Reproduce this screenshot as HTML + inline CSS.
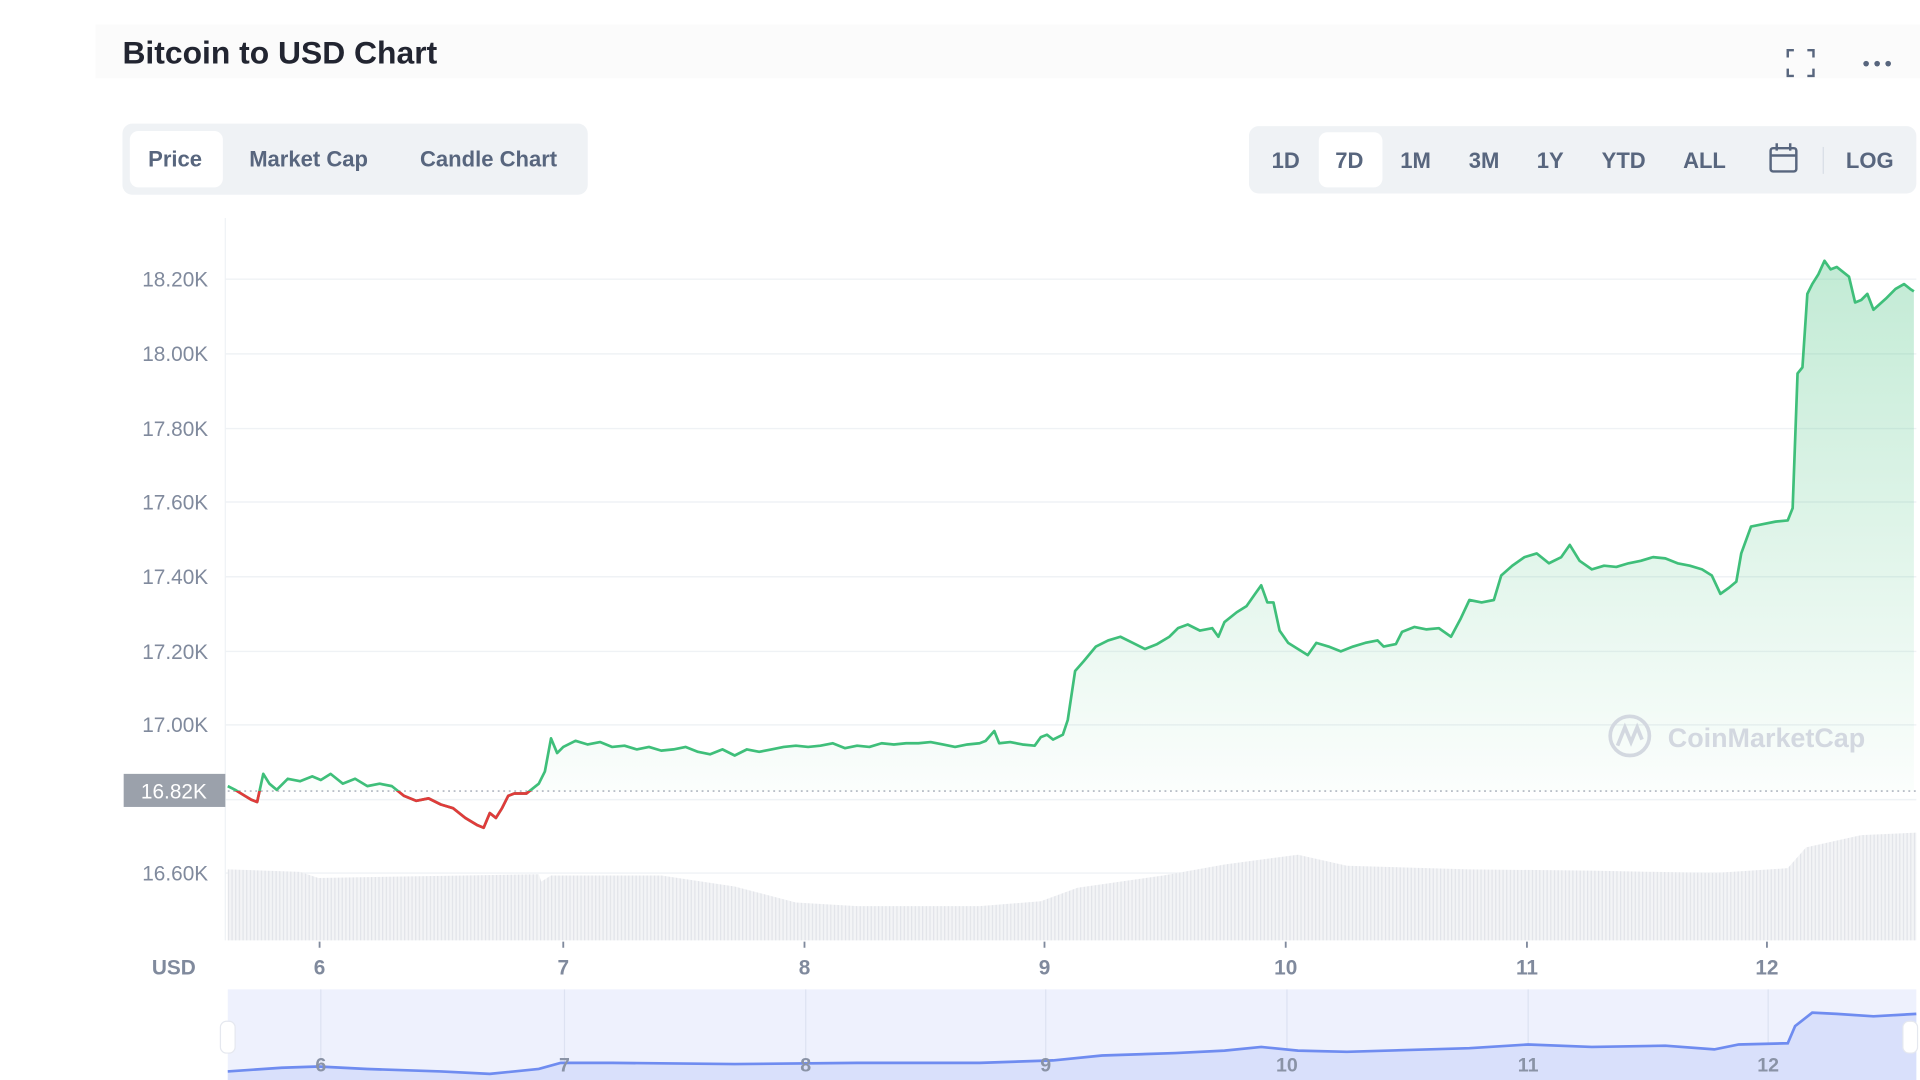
<!DOCTYPE html>
<html><head><meta charset="utf-8"><style>
html,body{margin:0;padding:0;background:#fff;width:1920px;height:1080px;overflow:hidden}
svg{display:block}
text{font-family:"Liberation Sans",sans-serif}
</style></head><body>
<svg width="1920" height="1080" viewBox="0 0 1568 882" preserveAspectRatio="none">
<defs>
<linearGradient id="gf" gradientUnits="userSpaceOnUse" x1="0" y1="210" x2="0" y2="660">
<stop offset="0" stop-color="#3fbf7a" stop-opacity="0.32"/>
<stop offset="1" stop-color="#3fbf7a" stop-opacity="0.01"/>
</linearGradient>
<pattern id="vp" width="3" height="10" patternUnits="userSpaceOnUse">
<rect width="3" height="10" fill="#f3f4f6"/><rect width="1" height="10" fill="#e2e4e9"/>
</pattern>
<clipPath id="redc"><rect x="186" y="646" width="250" height="100"/></clipPath>
<clipPath id="upc"><rect x="186" y="150" width="1380" height="496"/></clipPath>
</defs>
<rect x="78" y="20" width="1490" height="44" fill="#fbfbfb"/>
<text x="100" y="52" font-size="26" font-weight="bold" fill="#222531">Bitcoin to USD Chart</text>
<g stroke="#58667e" stroke-width="2" fill="none">
<path d="M1460 47v-6h5M1476 41h5v6M1481 56v6h-5M1465 62h-5v-6"/>
</g>
<circle cx="1524" cy="52" r="2.3" fill="#58667e"/><circle cx="1533" cy="52" r="2.3" fill="#58667e"/><circle cx="1542" cy="52" r="2.3" fill="#58667e"/>
<rect x="100" y="101" width="380" height="58" rx="8" fill="#eff2f5"/>
<rect x="106" y="107" width="76" height="46" rx="7" fill="#fff"/>
<g font-size="18" font-weight="bold" fill="#58667e" text-anchor="middle">
<text x="143" y="136">Price</text><text x="252" y="136">Market Cap</text><text x="399" y="136">Candle Chart</text>
</g>
<rect x="1020" y="103" width="545" height="55" rx="8" fill="#eff2f5"/>
<rect x="1077" y="108" width="52" height="45" rx="7" fill="#fff"/>
<g font-size="18" font-weight="bold" fill="#58667e" text-anchor="middle">
<text x="1050" y="137">1D</text><text x="1102" y="137">7D</text><text x="1156" y="137">1M</text><text x="1212" y="137">3M</text><text x="1266" y="137">1Y</text><text x="1326" y="137">YTD</text><text x="1392" y="137">ALL</text><text x="1527" y="137">LOG</text>
</g>
<g stroke="#58667e" stroke-width="2" fill="none"><rect x="1446" y="121" width="21" height="19" rx="2"/><path d="M1446 127h21M1451 117v6M1462 117v6"/></g>
<line x1="1489" y1="120" x2="1489" y2="142" stroke="#d8dde5"/>
<g stroke="#eff2f5" stroke-width="1.2">
<line x1="184" y1="228" x2="1565" y2="228"/><line x1="184" y1="289" x2="1565" y2="289"/><line x1="184" y1="350" x2="1565" y2="350"/><line x1="184" y1="410" x2="1565" y2="410"/><line x1="184" y1="471" x2="1565" y2="471"/><line x1="184" y1="532" x2="1565" y2="532"/><line x1="184" y1="592" x2="1565" y2="592"/><line x1="184" y1="653" x2="1565" y2="653"/><line x1="184" y1="713" x2="1565" y2="713"/>
</g>
<line x1="184" y1="178" x2="184" y2="768" stroke="#eff2f5"/>
<g font-size="17" fill="#808a9d" text-anchor="end">
<text x="170" y="234">18.20K</text><text x="170" y="295">18.00K</text><text x="170" y="356">17.80K</text><text x="170" y="416">17.60K</text><text x="170" y="477">17.40K</text><text x="170" y="538">17.20K</text><text x="170" y="598">17.00K</text><text x="170" y="719">16.60K</text>
</g>
<path d="M186 710 L245 712 L260 717 L440 714 L442 720 L450 715 L540 715 L600 724 L650 737 L700 740 L800 740 L850 736 L880 725 L950 715 L1000 706 L1060 698 L1100 707 L1200 710 L1300 711 L1400 713 L1460 709 L1475 692 L1520 682 L1565 680 L1565 768 L186 768 Z" fill="url(#vp)"/>
<defs>
<path id="line" d="M186 642 L192 645 L200 650 L205 653 L210 655 L215 632 L220 640 L226 645 L235 636 L245 638 L255 634 L262 637 L270 632 L280 640 L290 636 L300 642 L310 640 L320 642 L330 650 L340 654 L350 652 L360 657 L370 660 L380 668 L390 674 L395 676 L400 664 L405 668 L410 660 L415 650 L420 648 L430 648 L440 640 L445 630 L450 603 L455 615 L460 610 L470 605 L480 608 L490 606 L500 610 L510 609 L520 612 L530 610 L540 613 L550 612 L560 610 L570 614 L580 616 L590 612 L600 617 L610 612 L620 614 L630 612 L640 610 L650 609 L660 610 L670 609 L680 607 L690 611 L700 609 L710 610 L720 607 L730 608 L740 607 L750 607 L760 606 L770 608 L780 610 L790 608 L800 607 L805 605 L812 597 L816 607 L825 606 L835 608 L845 609 L850 602 L855 600 L860 604 L868 600 L872 588 L878 548 L885 540 L895 528 L905 523 L915 520 L925 525 L935 530 L945 526 L955 520 L962 513 L970 510 L980 515 L990 513 L995 520 L1000 508 L1010 500 L1018 495 L1025 485 L1030 478 L1035 492 L1040 492 L1045 515 L1052 525 L1060 530 L1068 535 L1075 525 L1085 528 L1095 532 L1105 528 L1115 525 L1125 523 L1130 528 L1140 526 L1145 516 L1155 512 L1165 514 L1175 513 L1185 520 L1193 505 L1200 490 L1210 492 L1220 490 L1226 470 L1235 462 L1245 455 L1255 452 L1265 460 L1275 455 L1282 445 L1290 458 L1300 465 L1310 462 L1320 463 L1330 460 L1340 458 L1350 455 L1360 456 L1370 460 L1380 462 L1390 465 L1398 470 L1405 485 L1412 480 L1418 475 L1422 452 L1430 430 L1440 428 L1450 426 L1460 425 L1464 415 L1468 305 L1472 300 L1476 240 L1480 232 L1485 224 L1490 213 L1495 220 L1500 218 L1510 226 L1515 247 L1520 245 L1525 240 L1530 253 L1540 244 L1548 236 L1555 232 L1560 236 L1563 238"/>
</defs>
<path clip-path="url(#upc)" fill="url(#gf)" d="M186 642 L192 645 L200 650 L205 653 L210 655 L215 632 L220 640 L226 645 L235 636 L245 638 L255 634 L262 637 L270 632 L280 640 L290 636 L300 642 L310 640 L320 642 L330 650 L340 654 L350 652 L360 657 L370 660 L380 668 L390 674 L395 676 L400 664 L405 668 L410 660 L415 650 L420 648 L430 648 L440 640 L445 630 L450 603 L455 615 L460 610 L470 605 L480 608 L490 606 L500 610 L510 609 L520 612 L530 610 L540 613 L550 612 L560 610 L570 614 L580 616 L590 612 L600 617 L610 612 L620 614 L630 612 L640 610 L650 609 L660 610 L670 609 L680 607 L690 611 L700 609 L710 610 L720 607 L730 608 L740 607 L750 607 L760 606 L770 608 L780 610 L790 608 L800 607 L805 605 L812 597 L816 607 L825 606 L835 608 L845 609 L850 602 L855 600 L860 604 L868 600 L872 588 L878 548 L885 540 L895 528 L905 523 L915 520 L925 525 L935 530 L945 526 L955 520 L962 513 L970 510 L980 515 L990 513 L995 520 L1000 508 L1010 500 L1018 495 L1025 485 L1030 478 L1035 492 L1040 492 L1045 515 L1052 525 L1060 530 L1068 535 L1075 525 L1085 528 L1095 532 L1105 528 L1115 525 L1125 523 L1130 528 L1140 526 L1145 516 L1155 512 L1165 514 L1175 513 L1185 520 L1193 505 L1200 490 L1210 492 L1220 490 L1226 470 L1235 462 L1245 455 L1255 452 L1265 460 L1275 455 L1282 445 L1290 458 L1300 465 L1310 462 L1320 463 L1330 460 L1340 458 L1350 455 L1360 456 L1370 460 L1380 462 L1390 465 L1398 470 L1405 485 L1412 480 L1418 475 L1422 452 L1430 430 L1440 428 L1450 426 L1460 425 L1464 415 L1468 305 L1472 300 L1476 240 L1480 232 L1485 224 L1490 213 L1495 220 L1500 218 L1510 226 L1515 247 L1520 245 L1525 240 L1530 253 L1540 244 L1548 236 L1555 232 L1560 236 L1563 238 L1563 646 L186 646 Z"/>
<line x1="186" y1="646" x2="1565" y2="646" stroke="#b0b6c0" stroke-width="1.3" stroke-dasharray="1.5 3"/>
<use href="#line" fill="none" stroke="#3fbf7a" stroke-width="2.2" stroke-linejoin="round"/>
<use href="#line" fill="none" stroke="#e03b3b" stroke-width="2.2" stroke-linejoin="round" clip-path="url(#redc)"/>
<rect x="101" y="632" width="83" height="27" fill="#9ba1ab"/>
<text x="142" y="652" font-size="17" fill="#fff" text-anchor="middle">16.82K</text>
<circle cx="1331" cy="601" r="16" fill="none" stroke="#d3d8e0" stroke-width="3"/>
<path d="M1321 609 L1327 594 L1332 606 L1337 594 L1341 604" fill="none" stroke="#d3d8e0" stroke-width="3"/>
<text x="1362" y="610" font-size="22" font-weight="bold" fill="#d3d8e0">CoinMarketCap</text>
<g stroke="#808a9d" stroke-width="1.5"><line x1="261" y1="769" x2="261" y2="774"/><line x1="460" y1="769" x2="460" y2="774"/><line x1="657" y1="769" x2="657" y2="774"/><line x1="853" y1="769" x2="853" y2="774"/><line x1="1050" y1="769" x2="1050" y2="774"/><line x1="1247" y1="769" x2="1247" y2="774"/><line x1="1443" y1="769" x2="1443" y2="774"/></g>
<g font-size="17" fill="#808a9d" font-weight="bold" text-anchor="middle">
<text x="142" y="796">USD</text><text x="261" y="796">6</text><text x="460" y="796">7</text><text x="657" y="796">8</text><text x="853" y="796">9</text><text x="1050" y="796">10</text><text x="1247" y="796">11</text><text x="1443" y="796">12</text>
</g>
<rect x="186" y="808" width="1379" height="74" fill="#eef1fd"/>
<g stroke="#dde2f2" stroke-width="1"><line x1="262" y1="808" x2="262" y2="882"/><line x1="461" y1="808" x2="461" y2="882"/><line x1="658" y1="808" x2="658" y2="882"/><line x1="854" y1="808" x2="854" y2="882"/><line x1="1051" y1="808" x2="1051" y2="882"/><line x1="1248" y1="808" x2="1248" y2="882"/><line x1="1444" y1="808" x2="1444" y2="882"/></g>
<path d="M186 875 L230 872 L260 871 L300 873 L360 875 L400 877 L440 873 L458 868 L500 868 L600 869 L700 868 L800 868 L860 866 L900 862 L960 860 L1000 858 L1030 855 L1060 858 L1100 859 L1200 856 L1248 853 L1300 855 L1360 854 L1400 857 L1420 853 L1460 852 L1466 838 L1480 827 L1500 828 L1530 830 L1565 828 L1565 882 L186 882 Z" fill="#d9e0fb"/>
<path d="M186 875 L230 872 L260 871 L300 873 L360 875 L400 877 L440 873 L458 868 L500 868 L600 869 L700 868 L800 868 L860 866 L900 862 L960 860 L1000 858 L1030 855 L1060 858 L1100 859 L1200 856 L1248 853 L1300 855 L1360 854 L1400 857 L1420 853 L1460 852 L1466 838 L1480 827 L1500 828 L1530 830 L1565 828" fill="none" stroke="#6f8cf0" stroke-width="2.2"/>
<g font-size="16" fill="#8a93a6" font-weight="bold" text-anchor="middle">
<text x="262" y="875">6</text><text x="461" y="875">7</text><text x="658" y="875">8</text><text x="854" y="875">9</text><text x="1051" y="875">10</text><text x="1248" y="875">11</text><text x="1444" y="875">12</text>
</g>
<rect x="180" y="834" width="12" height="26" rx="5" fill="#fff" stroke="#e5e8ef"/>
<rect x="1554" y="834" width="12" height="26" rx="5" fill="#fff" stroke="#e5e8ef"/>
</svg>
</body></html>
